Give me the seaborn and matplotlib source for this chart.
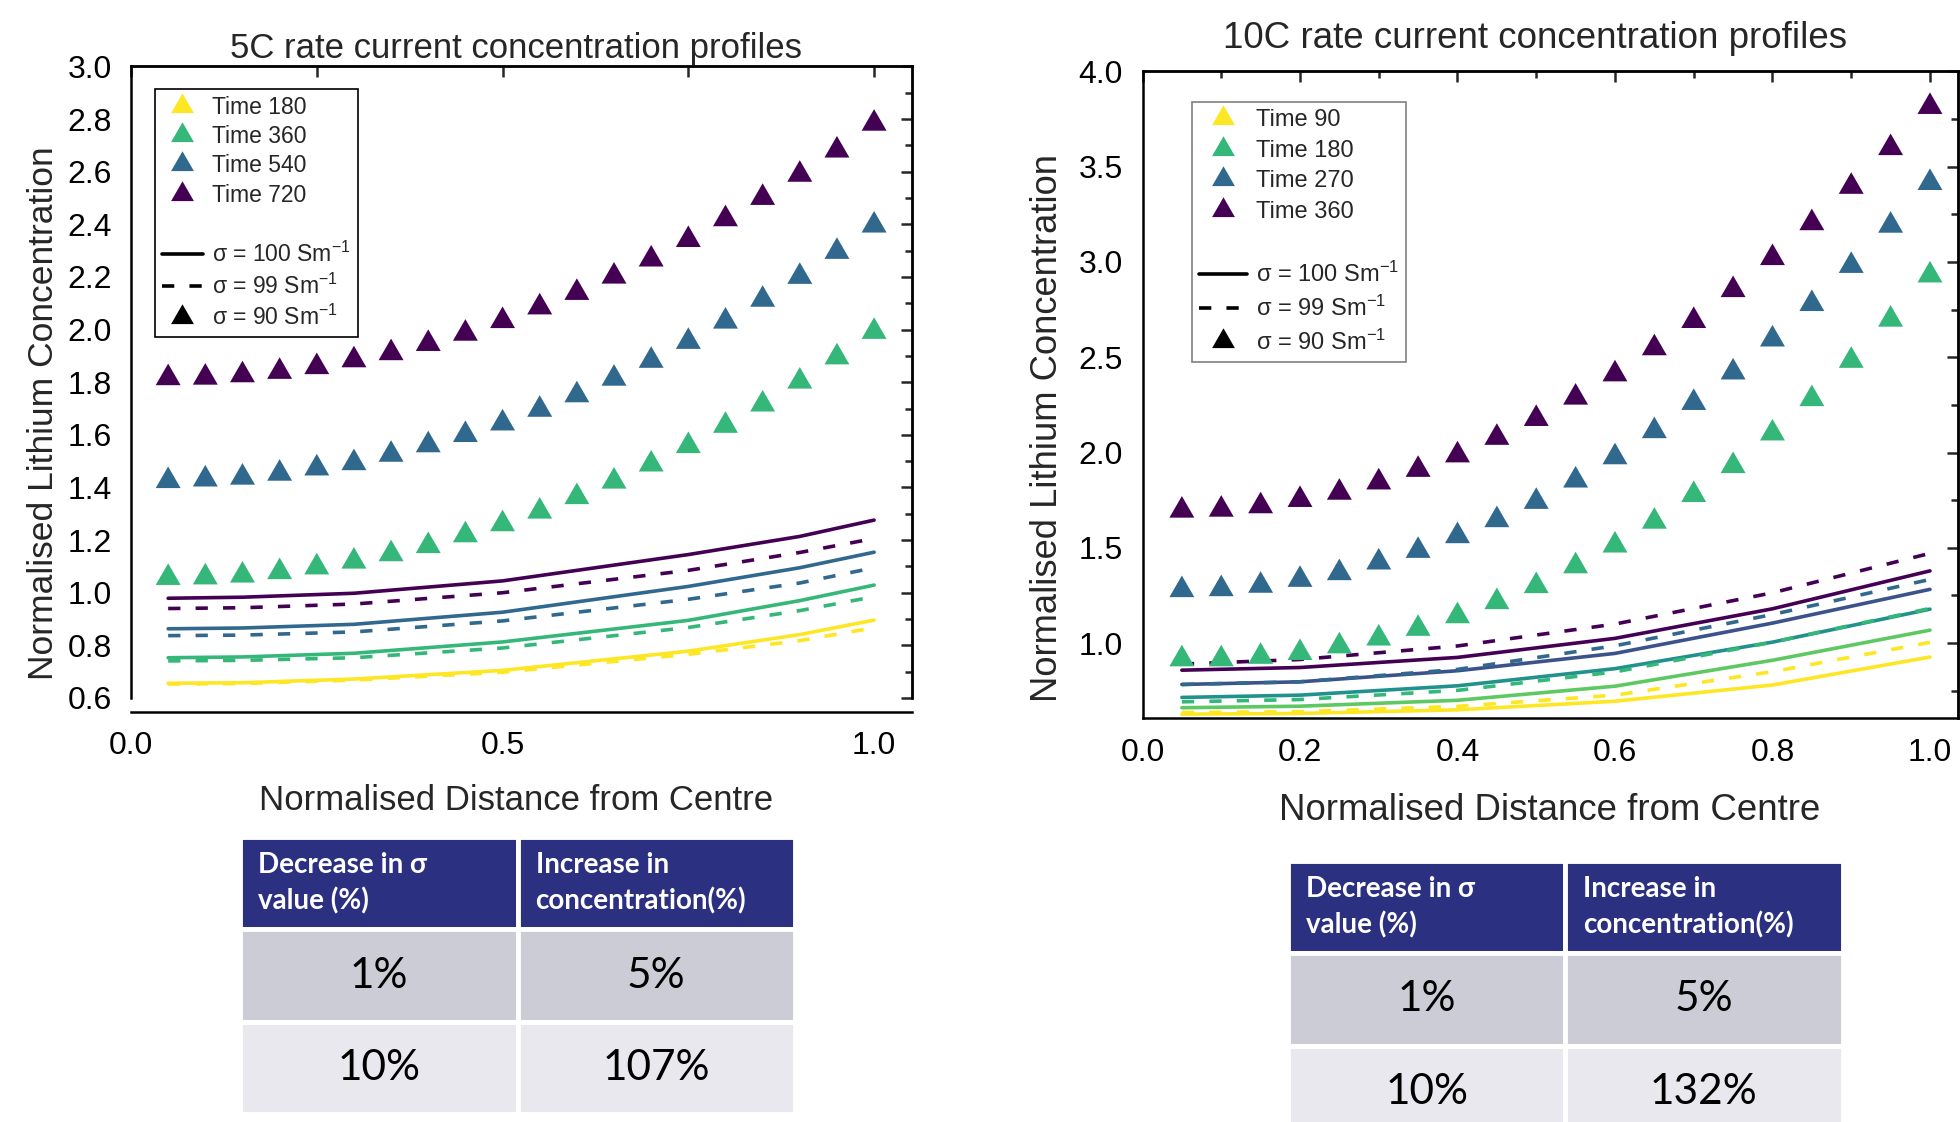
import matplotlib
matplotlib.use('Agg')
import numpy as np
import pandas as pd
import matplotlib.pyplot as plt
from matplotlib.lines import Line2D
from matplotlib.table import Table
from matplotlib.ticker import MultipleLocator, FormatStrFormatter
import seaborn as sns

# seaborn style first, fonts after (set_style resets font.family)
sns.set_style('white')
plt.rcParams['font.family'] = ['Liberation Sans', 'DejaVu Sans']
plt.rcParams['mathtext.fontset'] = 'custom'
plt.rcParams['mathtext.rm'] = 'Liberation Sans'
plt.rcParams['mathtext.it'] = 'Liberation Sans:italic'
plt.rcParams['mathtext.bf'] = 'Liberation Sans:bold'

# ---------------- data ----------------
# marker positions (normalised distance from centre)
x_pts = [0.05, 0.10, 0.15, 0.20, 0.25, 0.30, 0.35, 0.40, 0.45, 0.50,
         0.55, 0.60, 0.65, 0.70, 0.75, 0.80, 0.85, 0.90, 0.95, 1.00]

# 5C, sigma = 90 Sm-1 (triangles)
tri5_360 = [1.057, 1.059, 1.066, 1.079, 1.097, 1.119, 1.147, 1.178, 1.219, 1.261,
            1.309, 1.364, 1.423, 1.488, 1.558, 1.635, 1.716, 1.803, 1.895, 1.992]
tri5_540 = [1.425, 1.431, 1.438, 1.453, 1.473, 1.493, 1.525, 1.561, 1.600, 1.644,
            1.696, 1.751, 1.814, 1.882, 1.954, 2.031, 2.114, 2.201, 2.296, 2.396]
tri5_720 = [1.816, 1.818, 1.827, 1.840, 1.858, 1.884, 1.911, 1.946, 1.985, 2.033,
            2.085, 2.140, 2.202, 2.267, 2.341, 2.420, 2.501, 2.589, 2.681, 2.783]

# 5C, sigma = 100 (solid) and 99 (dashed)
x5_line = [0.05, 0.15, 0.30, 0.50, 0.75, 0.90, 1.00]
l5_180_s = [0.656, 0.658, 0.672, 0.705, 0.778, 0.841, 0.896]
l5_180_d = [0.653, 0.655, 0.668, 0.698, 0.766, 0.818, 0.867]
l5_360_s = [0.753, 0.756, 0.770, 0.813, 0.895, 0.970, 1.029]
l5_360_d = [0.741, 0.743, 0.753, 0.790, 0.868, 0.932, 0.985]
l5_540_s = [0.863, 0.866, 0.880, 0.926, 1.024, 1.095, 1.154]
l5_540_d = [0.837, 0.839, 0.851, 0.893, 0.975, 1.037, 1.095]
l5_720_s = [0.979, 0.983, 0.998, 1.045, 1.145, 1.214, 1.276]
l5_720_d = [0.940, 0.943, 0.957, 1.000, 1.085, 1.153, 1.206]

# 10C, sigma = 90 Sm-1 (triangles)
tri10_180 = [0.916, 0.916, 0.929, 0.949, 0.984, 1.025, 1.076, 1.142, 1.216, 1.300,
             1.404, 1.513, 1.638, 1.778, 1.930, 2.101, 2.281, 2.482, 2.698, 2.930]
tri10_270 = [1.279, 1.284, 1.302, 1.333, 1.368, 1.424, 1.485, 1.562, 1.646, 1.742,
             1.854, 1.976, 2.113, 2.261, 2.421, 2.594, 2.780, 2.980, 3.191, 3.415]
tri10_360 = [1.696, 1.701, 1.719, 1.752, 1.790, 1.844, 1.910, 1.986, 2.078, 2.177,
             2.289, 2.411, 2.548, 2.691, 2.853, 3.021, 3.204, 3.395, 3.598, 3.814]

# 10C lines
x10_line = [0.05, 0.20, 0.40, 0.60, 0.80, 1.00]
l10_s1 = [0.858, 0.872, 0.925, 1.025, 1.180, 1.379]
l10_s2 = [0.783, 0.797, 0.855, 0.946, 1.105, 1.282]
l10_s3 = [0.715, 0.727, 0.776, 0.866, 1.005, 1.178]
l10_s4 = [0.661, 0.669, 0.700, 0.774, 0.910, 1.068]
l10_s5 = [0.627, 0.631, 0.650, 0.695, 0.780, 0.927]
l10_d360 = [0.890, 0.914, 0.985, 1.100, 1.264, 1.471]
l10_d270 = [0.783, 0.797, 0.862, 0.986, 1.150, 1.334]
l10_d180 = [0.692, 0.704, 0.752, 0.849, 1.005, 1.182]
l10_d90 = [0.636, 0.640, 0.668, 0.727, 0.850, 1.004]

times5 = ['180', '360', '540', '720']
times10 = ['90', '180', '270', '360']

# tables
tab_header = ['Decrease in σ\nvalue (%)', 'Increase in\nconcentration(%)']
tab5_rows = [['1%', '5%'], ['10%', '107%']]
tab10_rows = [['1%', '5%'], ['10%', '132%']]

# colours
YEL, GRN, BLU, PUR = '#FDE725', '#35B779', '#31688E', '#440154'
pal_time = [YEL, GRN, BLU, PUR]
pal_10_solid = ['#440154', '#3B528B', '#21918C', '#5EC962', '#FDE725']

DASH = (3.4, 4.2)
LW = 2.6
TRI = (3, 0, 0)


def long_lines(x, series):
    rows = []
    for key, kind, vals in series:
        rows.append(pd.DataFrame({'x': x, 'c': vals, 'key': key, 'kind': kind}))
    return pd.concat(rows, ignore_index=True)


def long_tri(series):
    rows = []
    for key, vals in series:
        rows.append(pd.DataFrame({'x': x_pts, 'c': vals, 'key': key}))
    return pd.concat(rows, ignore_index=True)


lines5 = long_lines(x5_line, [
    ('180', 'solid', l5_180_s), ('180', 'dashed', l5_180_d),
    ('360', 'solid', l5_360_s), ('360', 'dashed', l5_360_d),
    ('540', 'solid', l5_540_s), ('540', 'dashed', l5_540_d),
    ('720', 'solid', l5_720_s), ('720', 'dashed', l5_720_d)])
tri5 = long_tri([('360', tri5_360), ('540', tri5_540), ('720', tri5_720)])

lines10 = long_lines(x10_line, [
    ('s1', 'solid', l10_s1), ('s2', 'solid', l10_s2), ('s3', 'solid', l10_s3),
    ('s4', 'solid', l10_s4), ('s5', 'solid', l10_s5),
    ('d360', 'dashed', l10_d360), ('d270', 'dashed', l10_d270),
    ('d180', 'dashed', l10_d180), ('d90', 'dashed', l10_d90)])
tri10 = long_tri([('180', tri10_180), ('270', tri10_270), ('360', tri10_360)])

pal5 = dict(zip(times5, pal_time))
pal10_lines = dict(zip(['s1', 's2', 's3', 's4', 's5'], pal_10_solid))
pal10_lines.update({'d360': PUR, 'd270': BLU, 'd180': GRN, 'd90': YEL})
pal10_tri = dict(zip(times10, pal_time))

# ---------------- figure ----------------
W, H = 1960, 1122
fig = plt.figure(figsize=(19.6, 11.22), dpi=100)
ax1 = fig.add_axes([131 / W, 1 - 698 / H, 781 / W, 631.6 / H])
ax2 = fig.add_axes([1142.5 / W, 1 - 718.4 / H, 815.5 / W, 647.1 / H])


def draw_panel(ax, lines, tri, pal_l, pal_t):
    sns.lineplot(data=lines, x='x', y='c', hue='key', style='kind', palette=pal_l,
                 dashes={'solid': '', 'dashed': DASH}, estimator=None, sort=False,
                 linewidth=LW, legend=False, ax=ax)
    sns.scatterplot(data=tri, x='x', y='c', hue='key', palette=pal_t, marker=TRI,
                    s=430, linewidth=0, legend=False, ax=ax, zorder=3)


draw_panel(ax1, lines5, tri5, pal5, pal5)
draw_panel(ax2, lines10, tri10, pal10_lines, pal10_tri)


def style_axes(ax, xlim, ylim, xmaj, xmin, ymaj, ymin, top_maj, top_min, fs):
    ax.set_xlim(*xlim)
    ax.set_ylim(*ylim)
    ax.xaxis.set_major_locator(MultipleLocator(xmaj))
    ax.xaxis.set_minor_locator(MultipleLocator(xmin))
    ax.yaxis.set_major_locator(MultipleLocator(ymaj))
    ax.yaxis.set_minor_locator(MultipleLocator(ymin))
    ax.xaxis.set_major_formatter(FormatStrFormatter('%.1f'))
    ax.yaxis.set_major_formatter(FormatStrFormatter('%.1f'))
    ax.tick_params(which='major', direction='out', length=9, width=1.8,
                   labelsize=fs, pad=5, color='k', labelcolor='k')
    ax.tick_params(which='minor', direction='out', length=5, width=1.8, color='k')
    for sp in ax.spines.values():
        sp.set_linewidth(1.8)
        sp.set_color('k')
    ax.set_xlabel('')
    ax.set_ylabel('')
    # mirrored inward ticks
    sy = ax.secondary_yaxis('right')
    sy.yaxis.set_major_locator(MultipleLocator(ymaj))
    sy.yaxis.set_minor_locator(MultipleLocator(ymin))
    sy.tick_params(which='major', direction='in', length=8, width=1.8, labelright=False)
    sy.tick_params(which='minor', direction='in', length=5, width=1.8)
    sy.spines['right'].set_linewidth(1.8)
    sx = ax.secondary_xaxis('top')
    sx.xaxis.set_major_locator(MultipleLocator(top_maj))
    if top_min:
        sx.xaxis.set_minor_locator(MultipleLocator(top_min))
    sx.tick_params(which='major', direction='in', length=8, width=1.8, labeltop=False)
    sx.tick_params(which='minor', direction='in', length=5, width=1.8)
    sx.spines['top'].set_linewidth(1.8)


style_axes(ax1, (0, 1.051), (0.6, 3.0), 0.5, 0.25, 0.2, 0.1, 0.25, None, 23)
style_axes(ax2, (0, 1.0356), (0.605, 4.0), 0.2, 0.1, 0.5, 0.25, 0.2, 0.1, 23)
ax1.spines['bottom'].set_position(('outward', 10))

# titles and axis labels
ax1.text(0.493, 1.029, '5C rate current concentration profiles', transform=ax1.transAxes,
         ha='center', va='center', fontsize=25)
ax2.text(0.481, 1.0507, '10C rate current concentration profiles', transform=ax2.transAxes,
         ha='center', va='center', fontsize=26.5)
ax1.set_ylabel('Normalised Lithium Concentration', fontsize=25.5)
ax1.yaxis.set_label_coords(-0.1114, 0.451)
ax1.yaxis.label.set_va('center')
ax2.set_ylabel('Normalised Lithium Concentration', fontsize=26.2)
ax2.yaxis.set_label_coords(-0.1165, 0.448)
ax2.yaxis.label.set_va('center')
ax1.set_xlabel('Normalised Distance from Centre', fontsize=25)
ax1.xaxis.set_label_coords(0.493, -0.1615)
ax1.xaxis.label.set_va('center')
ax2.set_xlabel('Normalised Distance from Centre', fontsize=26.4)
ax2.xaxis.set_label_coords(0.4997, -0.1416)
ax2.xaxis.label.set_va('center')


# legends
def make_legend(ax, times, anchor, fs, hl, edge, spacing):
    handles = [Line2D([], [], ls='none', marker=TRI, ms=19, mfc=c, mec='none') for c in pal_time]
    labels = ['Time ' + t for t in times]
    handles.append(Line2D([], [], ls='none'))
    labels.append(' ')
    handles += [Line2D([], [], color='k', lw=LW),
                Line2D([], [], color='k', lw=LW, dashes=DASH),
                Line2D([], [], ls='none', marker=TRI, ms=19, mfc='k', mec='none')]
    labels += [r'σ = 100 Sm$^{-1}$', r'σ = 99 Sm$^{-1}$', r'σ = 90 Sm$^{-1}$']
    leg = ax.legend(handles, labels, loc='upper left', bbox_to_anchor=anchor,
                    borderaxespad=0, frameon=True, fancybox=False, framealpha=1,
                    edgecolor=edge, fontsize=fs, handlelength=hl, handletextpad=0.4,
                    labelspacing=spacing, borderpad=0.3)
    leg.get_frame().set_linewidth(1.2)
    leg.set_zorder(10)


make_legend(ax1, times5, (0.0307, 0.964), 16.5, 1.8, 'k', 0.27)
make_legend(ax2, times10, (0.061, 0.952), 17, 2.0, '#808080', 0.36)


# tables
def draw_table(rect, rows):
    tax = fig.add_axes(rect)
    tax.axis('off')
    tb = Table(tax, bbox=[0, 0, 1, 1])
    cells = [tab_header] + rows
    fills = ['#2C3080', '#CCCCD6', '#E8E8EE']
    for r, row in enumerate(cells):
        for c, txt in enumerate(row):
            cell = tb.add_cell(r, c, width=0.5, height=1 / 3, text=txt,
                               loc='left' if r == 0 else 'center',
                               facecolor=fills[r], edgecolor='white')
            cell.set_linewidth(3.5)
            t = cell.get_text()
            t.set_family(['Lato', 'DejaVu Sans'])
            if r == 0:
                cell.PAD = 0.065
                t.set_color('white')
                t.set_fontsize(20)
                t.set_weight('bold')
                t.set_linespacing(1.45)
            else:
                t.set_color('black')
                t.set_fontsize(30.5)
    tb.auto_set_font_size(False)
    tax.add_table(tb)


draw_table([240 / W, 1 - 1114 / H, 555 / W, 277 / H], tab5_rows)
draw_table([1288 / W, 1 - 1138 / H, 554.5 / W, 277 / H], tab10_rows)

fig.savefig('out.png', dpi=100)
